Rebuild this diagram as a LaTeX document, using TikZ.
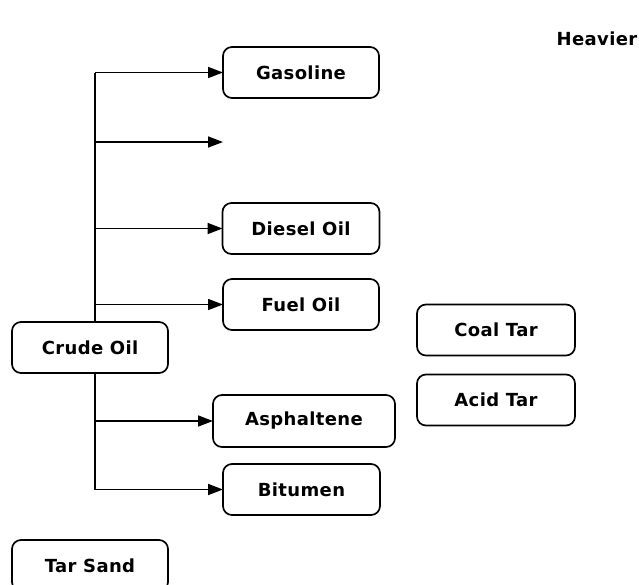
\documentclass[tikz,border=0pt]{standalone}
\usepackage{fontspec}
\setmainfont{DejaVu Sans}[LetterSpace=2]
\usetikzlibrary{arrows.meta,positioning}

\begin{document}
\begin{tikzpicture}[
	x = 1pt, y = -1pt, % pixel grid of the page
	> = {Triangle[length=15pt, width=11pt]}, % arrow head style
	line width = 1.7pt, % line style
	B/.style={draw=black, fill=white, rounded corners=9pt, minimum width=156pt, minimum height=51pt, inner sep=0pt, outer sep=0pt, font=\fontsize{18}{21}\selectfont\bfseries},
	T/.style={inner sep=0pt, font=\fontsize{18}{21}\selectfont\bfseries},
	]
	\clip (0,0) rectangle (639,584);

	% Products of the crude oil
	% Nodes and their relative positions
	\node[B] (gas) at (301,72.5) {Gasoline};
	\coordinate[below = 69.5pt of gas.west] (blank);
	\node[B, minimum width=157pt] (diesel) [below = 105pt of gas] {Diesel Oil};
	\node[B] (fuel) [below = 25pt of diesel] {Fuel Oil};
	\node[B, minimum width=182pt, minimum height=52pt] (asph) [below = 65pt of fuel, xshift=3pt] {Asphaltene};
	\node[B, minimum width=157pt] (bit) [below = 17pt of asph, xshift=-2.5pt] {Bitumen};
	\node[B, minimum width=158pt] (coal) [below right = 0pt and 38pt of fuel.east] {Coal Tar};
	\node[B, minimum width=158pt] (acid) [below = 19pt of coal] {Acid Tar};
	\node[B] (crude) at (90,347.5) {Crude Oil};
	\node[B] (tar) [below = 167pt of crude] {Tar Sand};
	\node[T] (heavy) at (597,39) {Heavier};

	% Trunk line
	\coordinate (top) at (95,72.5);
	\coordinate (bot) at (top |- bit.west);
	\draw (crude.north -| top) -- (top);
	\draw (crude.south -| bot) -- (bot);
	% Paths connecting nodes
	\foreach \n in {gas, blank, diesel, fuel, asph, bit}
		\draw[->] (top |- \n.west) -- (\n.west);

\end{tikzpicture}
\end{document}
